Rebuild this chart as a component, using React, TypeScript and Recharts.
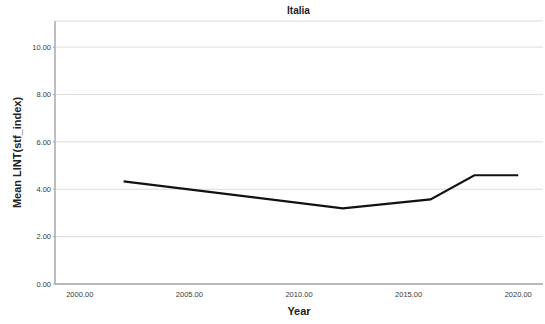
import { LineChart, Line, XAxis, YAxis, CartesianGrid, Label } from 'recharts';

// Survey years and mean values for Italy
const years = [2002, 2012, 2016, 2018, 2020];
const meanValues = [4.33, 3.19, 3.57, 4.59, 4.59];
const xTicks = [2000, 2005, 2010, 2015, 2020];
const yTicks = [0, 2, 4, 6, 8, 10];

const data = years.map((year, i) => ({ year, value: meanValues[i] }));

const font = '"Liberation Sans", Arial, sans-serif';
const fmt = (v: number) => v.toFixed(2);

export default function App() {
  return (
    <div style={{ position: 'absolute', left: 0, top: 0, width: 545, height: 324, fontFamily: font, background: '#fff' }}>
      <div
        style={{
          position: 'absolute',
          top: 5,
          left: 0,
          width: 545,
          paddingLeft: 52,
          boxSizing: 'border-box',
          textAlign: 'center',
          fontWeight: 'bold',
          fontSize: 10,
          color: '#222',
        }}
      >
        Italia
      </div>
      <LineChart width={545} height={324} data={data} margin={{ top: 21, right: 2, bottom: 20, left: 0 }}>
        <CartesianGrid vertical={false} stroke="#dcdcdc" strokeWidth={1} />
        <XAxis
          dataKey="year"
          type="number"
          domain={[1998.87, 2021.13]}
          ticks={xTicks}
          tickFormatter={fmt}
          tickLine={false}
          axisLine={{ stroke: '#a8a8a8', strokeWidth: 1.5 }}
          tick={{ fontSize: 7.5, fill: '#3a3a3a', fontFamily: font }}
          height={20}
        >
          <Label value="Year" position="insideBottom" offset={-11} style={{ fontSize: 11, fontWeight: 'bold', fill: '#222', fontFamily: font }} />
        </XAxis>
        <YAxis
          type="number"
          domain={[0, 11.1]}
          ticks={yTicks}
          tickFormatter={fmt}
          tickSize={2}
          tickLine={{ stroke: '#a8a8a8' }}
          axisLine={{ stroke: '#a8a8a8', strokeWidth: 1.5 }}
          tick={{ fontSize: 7.5, fill: '#3a3a3a', fontFamily: font }}
          width={55}
        >
          <Label
            value="Mean LINT(stf_index)"
            angle={-90}
            position="insideLeft"
            offset={17}
            style={{ textAnchor: 'middle', fontSize: 11, fontWeight: 'bold', fill: '#222', fontFamily: font }}
          />
        </YAxis>
        <Line
          type="linear"
          dataKey="value"
          stroke="#111"
          strokeWidth={2.2}
          dot={false}
          isAnimationActive={false}
        />
      </LineChart>
    </div>
  );
}
